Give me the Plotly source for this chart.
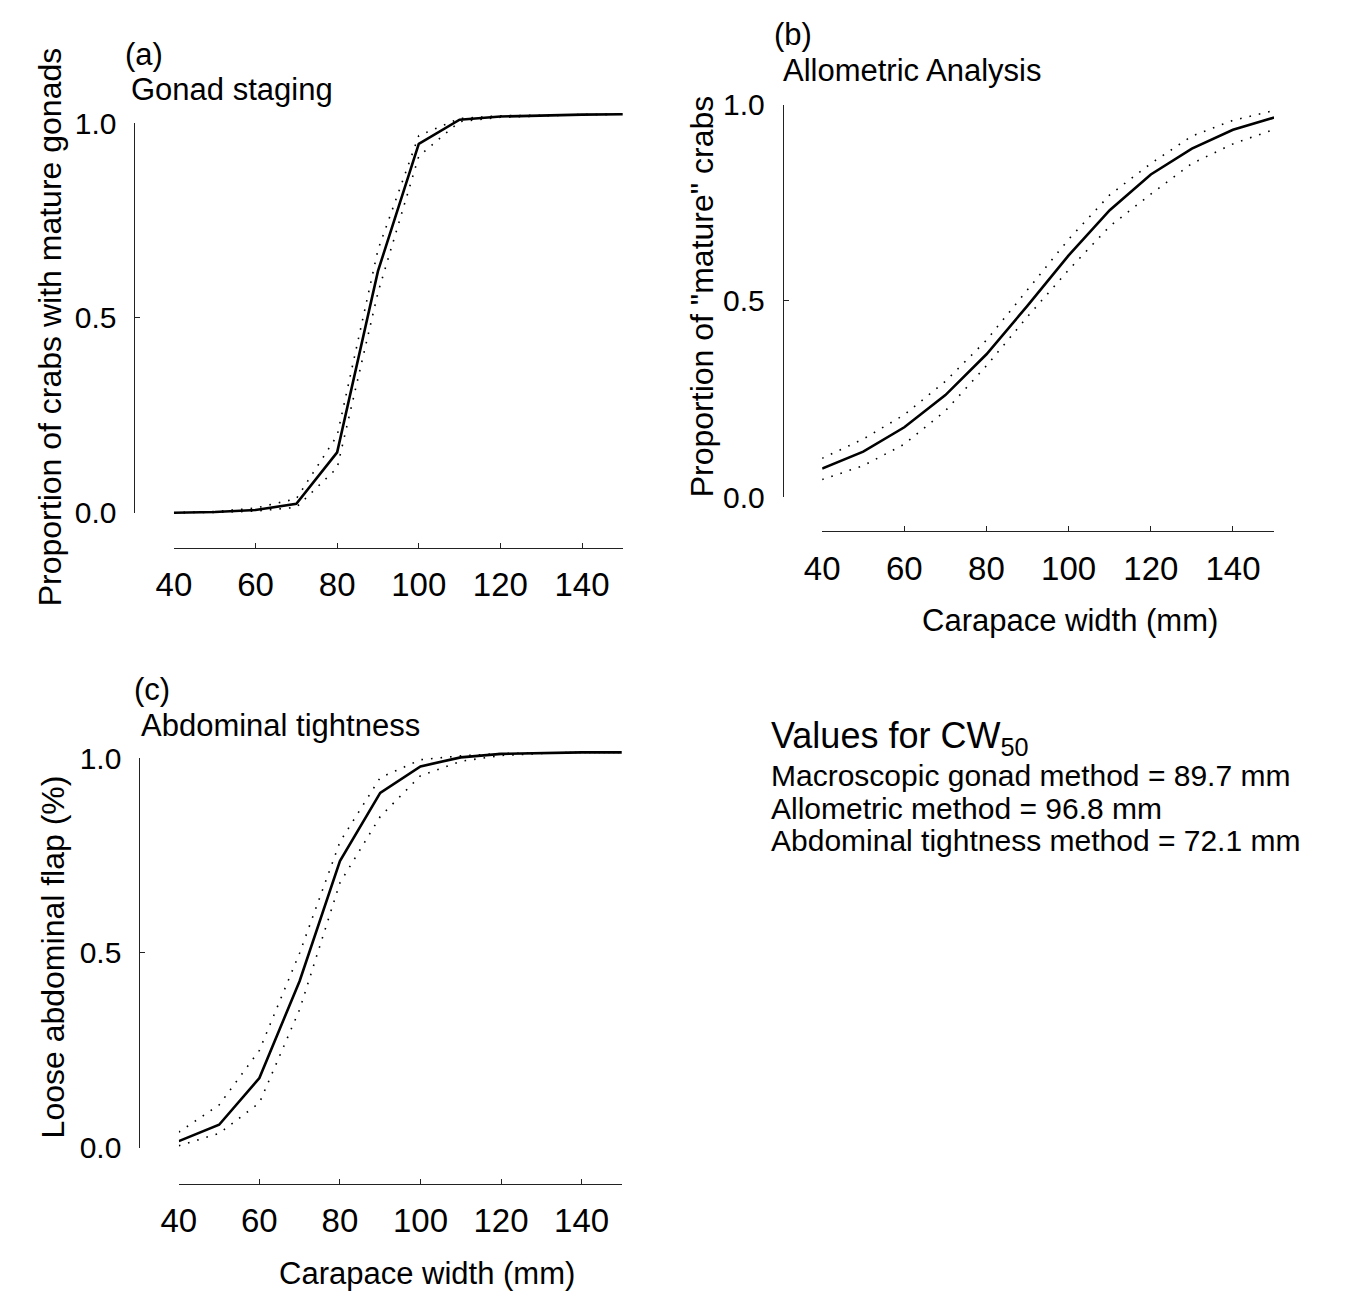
import plotly.graph_objects as go

# ---------------- data ----------------
cw = [40, 50, 60, 70, 80, 90, 100, 110, 120, 130, 140, 150]

gonad_fit = [0.0, 0.002, 0.007, 0.023, 0.155, 0.62, 0.947, 1.009, 1.017, 1.02, 1.022, 1.023]
gonad_upper = [0.0, 0.003, 0.012, 0.036, 0.198, 0.675, 0.968, 1.012, 1.019, 1.021, 1.022, 1.023]
gonad_lower = [0.0, 0.001, 0.004, 0.014, 0.115, 0.565, 0.915, 1.004, 1.015, 1.019, 1.022, 1.023]

allo_fit = [0.073, 0.116, 0.178, 0.26, 0.364, 0.488, 0.616, 0.731, 0.822, 0.888, 0.936, 0.967]
allo_upper = [0.099, 0.148, 0.21, 0.295, 0.40, 0.53, 0.657, 0.77, 0.85, 0.92, 0.96, 0.985]
allo_lower = [0.045, 0.08, 0.135, 0.22, 0.335, 0.46, 0.579, 0.69, 0.772, 0.85, 0.90, 0.937]

abd_fit = [0.017, 0.059, 0.179, 0.428, 0.736, 0.911, 0.979, 1.002, 1.011, 1.013, 1.015, 1.015]
abd_upper = [0.04, 0.11, 0.25, 0.50, 0.785, 0.95, 0.996, 1.006, 1.012, 1.014, 1.015, 1.015]
abd_lower = [0.005, 0.037, 0.115, 0.355, 0.68, 0.85, 0.955, 0.992, 1.007, 1.012, 1.015, 1.015]

x_ticks = [40, 60, 80, 100, 120, 140]
y_ticks = [0, 0.5, 1.0]
y_tick_text = ["0.0", "0.5", "1.0"]

panel_letters = ["(a)", "(b)", "(c)"]
panel_titles = ["Gonad staging", "Allometric Analysis", "Abdominal tightness"]
y_titles = ["Proportion of crabs with mature gonads", 'Proportion of "mature" crabs',
            "Loose abdominal flap (%)"]
x_title = "Carapace width (mm)"
cw50_heading = "Values for CW<sub>50</sub>"
cw50_lines = ["Macroscopic gonad method = 89.7 mm",
              "Allometric method = 96.8 mm",
              "Abdominal tightness method = 72.1 mm"]

# ---------------- layout geometry (pixels) ----------------
W, H = 1352, 1305
FONT = "Liberation Sans, Arial, Helvetica, sans-serif"


def px(v):
    return v / W


def py(v):
    return 1 - v / H


# x pixel of 40 and 150, y pixel of x-axis line, y pixel of 0 and 1, x pixel of y-axis line
panels = [
    dict(x40=158, x150=613, xline=545, y0=509, y1=109, yline=118),
    dict(x40=815, x150=1273, xline=528, y0=493, y1=90, yline=775),
    dict(x40=163, x150=612, xline=1198, y0=1161, y1=761, yline=123),
]
RMIN, RMAX = -0.05, 1.06

series = [
    (gonad_fit, gonad_upper, gonad_lower),
    (allo_fit, allo_upper, allo_lower),
    (abd_fit, abd_upper, abd_lower),
]

fig = go.Figure()
layout = {}
for i, (p, (fit, up, lo)) in enumerate(zip(panels, series)):
    n = i + 1
    xa = "x" if n == 1 else f"x{n}"
    ya = "y" if n == 1 else f"y{n}"
    yv = f"y{n + 3}"
    for band in (up, lo):
        fig.add_trace(go.Scatter(x=cw, y=band, mode="lines", xaxis=xa, yaxis=ya,
                                 line=dict(color="black", width=1.6, dash="1.6px,8px"),
                                 showlegend=False, hoverinfo="skip"))
    fig.add_trace(go.Scatter(x=cw, y=fit, mode="lines", xaxis=xa, yaxis=ya,
                             line=dict(color="black", width=2.6),
                             showlegend=False, hoverinfo="skip"))
    # dummy trace so the display y-axis is drawn
    fig.add_trace(go.Scatter(x=[None], y=[None], xaxis=xa, yaxis=yv, mode="lines",
                             showlegend=False, hoverinfo="skip"))

    scale = p["y0"] - p["y1"]
    layout[f"xaxis{'' if n == 1 else n}"] = dict(
        domain=[px(p["x40"]), px(p["x150"])], range=[40, 150],
        anchor="free", position=py(p["xline"]),
        showline=True, linecolor="#222", linewidth=1,
        ticks="inside", ticklen=5, tickwidth=1, tickcolor="#222",
        tickvals=x_ticks, ticklabelstandoff=8,
        tickfont=dict(family=FONT, size=33, color="black"),
        showgrid=False, zeroline=False, fixedrange=True,
    )
    layout[f"yaxis{'' if n == 1 else n}"] = dict(
        domain=[py(p["y0"] + (0 - RMIN) * scale), py(p["y0"] - RMAX * scale)],
        range=[RMIN, RMAX], visible=False, anchor=xa, fixedrange=True,
    )
    layout[f"yaxis{n + 3}"] = dict(
        domain=[py(p["y0"]), py(p["y1"])], range=[0, 1],
        anchor="free", position=px(p["yline"]), side="left",
        showline=True, linecolor="#222", linewidth=1,
        ticks="inside", ticklen=5, tickwidth=1, tickcolor="#222",
        tickvals=y_ticks, ticktext=y_tick_text, ticklabelstandoff=12,
        tickfont=dict(family=FONT, size=30, color="black"),
        showgrid=False, zeroline=False, fixedrange=True,
    )

annotations = []


def add_text(text, x, y, size, xanchor="left", angle=0):
    annotations.append(dict(text=text, x=px(x), y=py(y), xref="paper", yref="paper",
                            xanchor=xanchor, yanchor="middle", showarrow=False,
                            textangle=angle, font=dict(family=FONT, size=size, color="black")))


# panel letters and titles
letter_pos = [(106, 38), (764, 18), (116, 690)]
title_pos = [(113, 74), (773, 55), (123, 727)]
for t, (x, y) in zip(panel_letters, letter_pos):
    add_text(t, x, y, 31)
for t, (x, y) in zip(panel_titles, title_pos):
    add_text(t, x, y, 31)

# axis titles
ytitle_pos = [(32, 318), (693, 287), (35, 965)]
for t, (x, y) in zip(y_titles, ytitle_pos):
    add_text(t, x, y, 32, xanchor="center", angle=-90)
add_text(x_title, 1066, 620, 31, xanchor="center")
add_text(x_title, 415, 1290, 31, xanchor="center")

# CW50 text block
add_text(cw50_heading, 761, 740, 36)
for t, y in zip(cw50_lines, [779, 813, 846]):
    add_text(t, 761, y, 30)

fig.update_layout(
    width=W, height=H, autosize=False,
    margin=dict(l=0, r=0, t=0, b=0),
    paper_bgcolor="white", plot_bgcolor="rgba(0,0,0,0)",
    showlegend=False, annotations=annotations,
    font=dict(family=FONT, color="black"),
    **layout,
)
fig.write_html("out.html", config={"displayModeBar": False},
               post_script="document.body.style.margin='0';document.body.style.overflow='hidden';")
